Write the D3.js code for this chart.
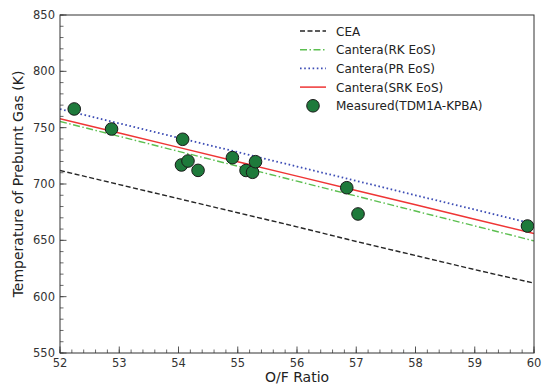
<!DOCTYPE html>
<html>
<head>
<meta charset="utf-8">
<script src="https://cdn.jsdelivr.net/npm/d3@7/dist/d3.min.js"></script>
<style>
  html, body { margin: 0; padding: 0; background: #fff; }
  svg text { font-family: "DejaVu Sans", sans-serif; }
</style>
</head>
<body>
<svg id="chart" width="546" height="386"></svg>
<script>
// ---- data ----
const ofRatio = [52, 53, 54, 55, 56, 57, 58, 59, 60];
const ceaT     = [712, 699.5, 687, 674.5, 662, 649, 636.5, 624, 612];
const rkT      = [755.5, 742.3, 729, 715.8, 702.5, 689.3, 676, 662.8, 649.5];
const prT      = [766.5, 753.8, 741, 728.3, 715.5, 702.8, 690, 677.3, 664.5];
const srkT     = [758, 745.3, 732.5, 719.8, 707, 694.3, 681.5, 668.8, 656];
const measuredOF = [52.24, 52.87, 54.07, 54.05, 54.16, 54.33, 54.91, 55.14, 55.25, 55.30, 56.84, 57.03, 59.89];
const measuredT  = [766.6, 748.8, 739.7, 716.9, 720.4, 712.1, 723.4, 712.0, 710.4, 719.8, 696.7, 673.4, 662.7];
const xTicks = [52, 53, 54, 55, 56, 57, 58, 59, 60];
const yTicks = [550, 600, 650, 700, 750, 800, 850];
const seriesNames = ["CEA", "Cantera(RK EoS)", "Cantera(PR EoS)", "Cantera(SRK EoS)"];
const measuredName = "Measured(TDM1A-KPBA)";

// ---- layout ----
const svg = d3.select("#chart");
const L = 60, R = 534, T = 15, B = 353;
const x = d3.scaleLinear().domain([52, 60]).range([L, R]);
const y = d3.scaleLinear().domain([550, 850]).range([B, T]);

const styles = [
  { color: "#262626", dash: "5,2.5", width: 1.4 },
  { color: "#5cbf50", dash: "7,2.5,1.5,2.5", width: 1.4 },
  { color: "#3d4db5", dash: "1.6,2.6", width: 1.8 },
  { color: "#ef3535", dash: null, width: 1.5 }
];
const seriesVals = [ceaT, rkT, prT, srkT];

// clip
svg.append("defs").append("clipPath").attr("id", "clip")
  .append("rect").attr("x", L).attr("y", T).attr("width", R - L).attr("height", B - T);

// minor ticks
const gx = svg.append("g");
const xMinor = d3.range(52, 60.001, 0.2);
gx.selectAll("line.minor").data(xMinor).join("line")
  .attr("x1", d => x(d)).attr("x2", d => x(d))
  .attr("y1", B).attr("y2", B - 3.5)
  .attr("stroke", "#444").attr("stroke-width", 0.8);
gx.selectAll("line.major").data(xTicks).join("line")
  .attr("x1", d => x(d)).attr("x2", d => x(d))
  .attr("y1", B).attr("y2", B - 6.5)
  .attr("stroke", "#444").attr("stroke-width", 0.9);
gx.selectAll("text").data(xTicks).join("text")
  .attr("x", d => x(d)).attr("y", B + 14)
  .attr("text-anchor", "middle").attr("font-size", 11.5).attr("fill", "#333")
  .text(d => d);

const gy = svg.append("g");
const yMinor = d3.range(550, 850.001, 10);
gy.selectAll("line.minor").data(yMinor).join("line")
  .attr("x1", L).attr("x2", L + 3.5)
  .attr("y1", d => y(d)).attr("y2", d => y(d))
  .attr("stroke", "#444").attr("stroke-width", 0.8);
gy.selectAll("line.major").data(yTicks).join("line")
  .attr("x1", L).attr("x2", L + 6.5)
  .attr("y1", d => y(d)).attr("y2", d => y(d))
  .attr("stroke", "#444").attr("stroke-width", 0.9);
gy.selectAll("text").data(yTicks).join("text")
  .attr("x", L - 5).attr("y", d => y(d) + 4)
  .attr("text-anchor", "end").attr("font-size", 11.5).attr("fill", "#333")
  .text(d => d);

// lines
const plot = svg.append("g").attr("clip-path", "url(#clip)");
seriesVals.forEach((vals, i) => {
  const line = d3.line().x((d, j) => x(ofRatio[j])).y(d => y(d));
  plot.append("path").datum(vals)
    .attr("d", line).attr("fill", "none")
    .attr("stroke", styles[i].color)
    .attr("stroke-width", styles[i].width)
    .attr("stroke-dasharray", styles[i].dash);
});

// points
plot.selectAll("circle").data(measuredOF).join("circle")
  .attr("cx", d => x(d)).attr("cy", (d, i) => y(measuredT[i]))
  .attr("r", 6.3).attr("fill", "#1e7a3b").attr("stroke", "#1a1a1a").attr("stroke-width", 1);

// frame
svg.append("rect").attr("x", L).attr("y", T).attr("width", R - L).attr("height", B - T)
  .attr("fill", "none").attr("stroke", "#333").attr("stroke-width", 1);

// axis labels
svg.append("text").attr("x", (L + R) / 2).attr("y", 382)
  .attr("text-anchor", "middle").attr("font-size", 14).attr("fill", "#222")
  .text("O/F Ratio");
svg.append("text").attr("transform", `translate(23,${(T + B) / 2}) rotate(-90)`)
  .attr("text-anchor", "middle").attr("font-size", 14).attr("fill", "#222")
  .text("Temperature of Preburnt Gas (K)");

// legend
const lg = svg.append("g");
const rowY = [31, 49.7, 68.4, 87.1];
seriesNames.forEach((name, i) => {
  lg.append("line").attr("x1", 300).attr("x2", 326)
    .attr("y1", rowY[i]).attr("y2", rowY[i])
    .attr("stroke", styles[i].color).attr("stroke-width", styles[i].width)
    .attr("stroke-dasharray", styles[i].dash);
  lg.append("text").attr("x", 336).attr("y", rowY[i] + 4.5)
    .attr("font-size", 12).attr("fill", "#222").text(name);
});
lg.append("circle").attr("cx", 313).attr("cy", 105.8).attr("r", 6.3)
  .attr("fill", "#1e7a3b").attr("stroke", "#1a1a1a").attr("stroke-width", 1);
lg.append("text").attr("x", 336).attr("y", 105.8 + 4.5)
  .attr("font-size", 12).attr("fill", "#222").text(measuredName);
</script>
</body>
</html>
